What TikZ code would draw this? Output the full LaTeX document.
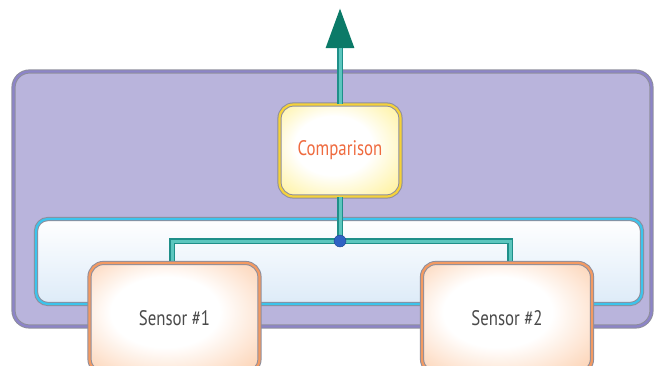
\documentclass[tikz,border=0pt]{standalone}
\usepackage{fontspec}
\newfontfamily\boxfont[FakeStretch=0.8]{PT Sans}
\usetikzlibrary{arrows.meta}
\definecolor{panelfill}{HTML}{B9B4DC}
\definecolor{paneledge}{HTML}{8C84C8}
\definecolor{rimgray}{HTML}{8E8E9C}
\definecolor{barcyan}{HTML}{3CC4EC}
\definecolor{barblue}{HTML}{DDEBF8}
\definecolor{compfill}{HTML}{FFEE80}
\definecolor{compedge}{HTML}{F5D23A}
\definecolor{comptext}{HTML}{EF6A3E}
\definecolor{sensfill}{HTML}{FCC8A2}
\definecolor{sensedge}{HTML}{F39A62}
\definecolor{senstext}{HTML}{4A4A4A}
\definecolor{wireedge}{HTML}{1F8F89}
\definecolor{wirecore}{HTML}{5CC6BE}
\definecolor{tiptl}{HTML}{0B7A68}
\definecolor{dotblue}{HTML}{2F62C4}
\pgfdeclareradialshading{compglow}{\pgfpoint{-4bp}{4bp}}{color(0bp)=(white); color(16bp)=(white);
  color(40bp)=(compfill); color(50bp)=(compfill)}
\pgfdeclareradialshading{sensglow}{\pgfpoint{-4bp}{4bp}}{color(0bp)=(white); color(16bp)=(white);
  color(40bp)=(sensfill); color(50bp)=(sensfill)}
\tikzset{
  rim/.style={draw=rimgray, line width=1pt, double distance=2.2pt},
  panelbox/.style={rim, double=paneledge, fill=panelfill, rounded corners=16pt,
    minimum width=638pt, minimum height=255pt},
  barbox/.style={rim, double=barcyan, rounded corners=12pt, top color=white,
    bottom color=barblue, minimum width=606pt, minimum height=85pt},
  compbox/.style={rim, double=compedge, rounded corners=14pt, shading=compglow,
    minimum width=121pt, minimum height=92pt,
    font=\boxfont\fontsize{21}{24}\selectfont, text=comptext},
  sensorbox/.style={rim, double=sensedge, rounded corners=14pt, shading=sensglow,
    minimum width=170pt, minimum height=110pt,
    font=\boxfont\fontsize{21}{24}\selectfont, text=senstext},
  wire/.style={draw=wireedge, line width=6pt},
  wirein/.style={draw=wirecore, line width=3pt},
}
\begin{document}
\begin{tikzpicture}[x=1pt,y=-1pt]
    \useasboundingbox (0,0) rectangle (655,365);
    \clip (0,0) rectangle (655,365);

    \node[panelbox] (panel) at (332.5,199) {};
    \node[barbox] (bar) at (339,261.5) {};
    \node[compbox] (comp) at (340,150.5) {Comparison};
    \coordinate (tip) at (340,8);
    \coordinate (hub) at (340,241);
    \coordinate (left) at (172,241);
    \coordinate (right) at (510,241);

    % wires
    \draw[wire] (left |- 0,268) |- (hub) -| (right |- 0,268);
    \draw[wirein] (left |- 0,268) |- (hub) -| (right |- 0,268);
    \draw[wire] (comp.south) -- (hub);
    \draw[wirein] (comp.south) -- (hub);
    \draw[wire,-{Triangle[length=40pt,width=27pt,color=tiptl]}] (comp.north) -- (tip);
    \draw[wirein,shorten >=40pt] (comp.north) -- (tip);

    \foreach \i/\x in {1/174.5,2/507}
        \node[sensorbox] (s\i) at (\x,318) {Sensor \#\i};

    \node[circle, fill=dotblue, draw=dotblue!70!black, inner sep=0pt,
      minimum size=12pt] (dot) at (hub) {};
\end{tikzpicture}
\end{document}
